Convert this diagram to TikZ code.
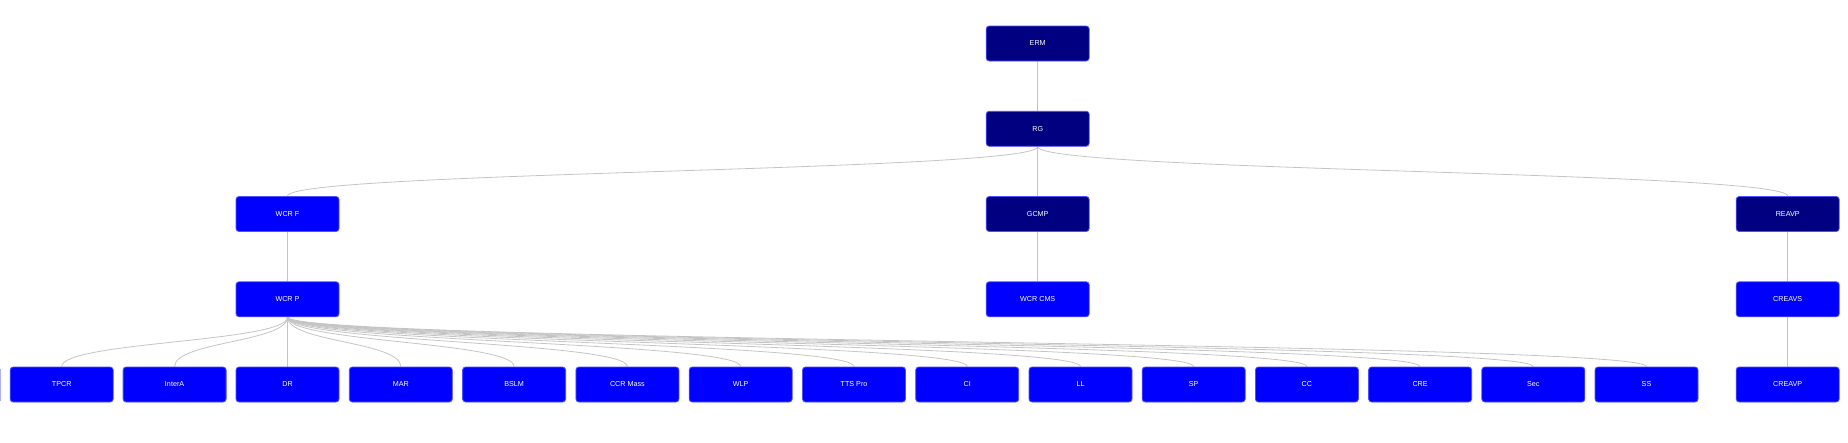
\documentclass[tikz,border=0pt]{standalone}
\usepackage{fontspec}
\setmainfont{Liberation Sans}
\usetikzlibrary{backgrounds}
\definecolor{nodeblue}{RGB}{0,0,255}
\definecolor{nodenavy}{RGB}{0,0,128}
\definecolor{nodeborder}{RGB}{80,80,255}
\definecolor{edgegrey}{RGB}{196,196,196}
\definecolor{edgestub}{RGB}{175,175,255}
\tikzset{
  box/.style={rectangle, rounded corners=3pt, minimum width=103pt, minimum height=35pt,
    inner sep=0pt, draw=nodeborder, line width=0.8pt, text=white,
    font=\fontsize{7.2}{8}\selectfont},
  leafbox/.style={box, fill=nodeblue},
  navybox/.style={box, fill=nodenavy},
  link/.style={draw=edgegrey, line width=0.8pt},
}
\newcommand{\lnk}[2]{\draw[link] (#1.south) .. controls +(0,25) and +(0,-25) .. (#2.north);}
\begin{document}
\begin{tikzpicture}[x=1pt,y=-1pt]
\useasboundingbox (0,0) rectangle (1848,442);
% level 0-1
\node[navybox] (erm) at (1037.7,43.5) {ERM};
\node[navybox] (rg) at (1037.7,128.75) {RG};
% level 2
\node[leafbox] (wcrf) at (287.5,214) {WCR F};
\node[navybox] (gcmp) at (1037.7,214) {GCMP};
\node[navybox] (reavp) at (1787.7,214) {REAVP};
% level 3
\node[leafbox] (wcrp) at (287.5,299.25) {WCR P};
\node[leafbox] (wcrcms) at (1037.7,299.25) {WCR CMS};
\node[leafbox] (creavs) at (1787.7,299.25) {CREAVS};
% level 4
\node[leafbox] (tpcr) at (61.7,384.5) {TPCR};
\node[leafbox] (intera) at (174.6,384.5) {InterA};
\node[leafbox] (dr) at (287.5,384.5) {DR};
\node[leafbox] (mar) at (400.8,384.5) {MAR};
\node[leafbox] (bslm) at (514.1,384.5) {BSLM};
\node[leafbox] (ccrmass) at (627.4,384.5) {CCR Mass};
\node[leafbox] (wlp) at (740.7,384.5) {WLP};
\node[leafbox] (ttspro) at (854.0,384.5) {TTS Pro};
\node[leafbox] (ci) at (967.2,384.5) {CI};
\node[leafbox] (ll) at (1080.5,384.5) {LL};
\node[leafbox] (sp) at (1193.7,384.5) {SP};
\node[leafbox] (cc) at (1306.9,384.5) {CC};
\node[leafbox] (cre) at (1420.1,384.5) {CRE};
\node[leafbox] (sec) at (1533.3,384.5) {Sec};
\node[leafbox] (ss) at (1646.5,384.5) {SS};
\node[leafbox] (creavp) at (1787.7,384.5) {CREAVP};
% partial border at left edge
\coordinate (stubtop) at (0.6,369);
\coordinate (stubbot) at (0.6,401);
\draw[edgestub, line width=1.2pt] (stubtop) -- (stubbot);
\begin{scope}[on background layer]
\lnk{erm}{rg}
\lnk{rg}{wcrf}
\lnk{rg}{gcmp}
\lnk{rg}{reavp}
\lnk{wcrf}{wcrp}
\lnk{gcmp}{wcrcms}
\lnk{reavp}{creavs}
\lnk{creavs}{creavp}
\foreach \c in {tpcr,intera,dr,mar,bslm,ccrmass,wlp,ttspro,ci,ll,sp,cc,cre,sec,ss}{
  \lnk{wcrp}{\c}
}
\end{scope}
\end{tikzpicture}
\end{document}
